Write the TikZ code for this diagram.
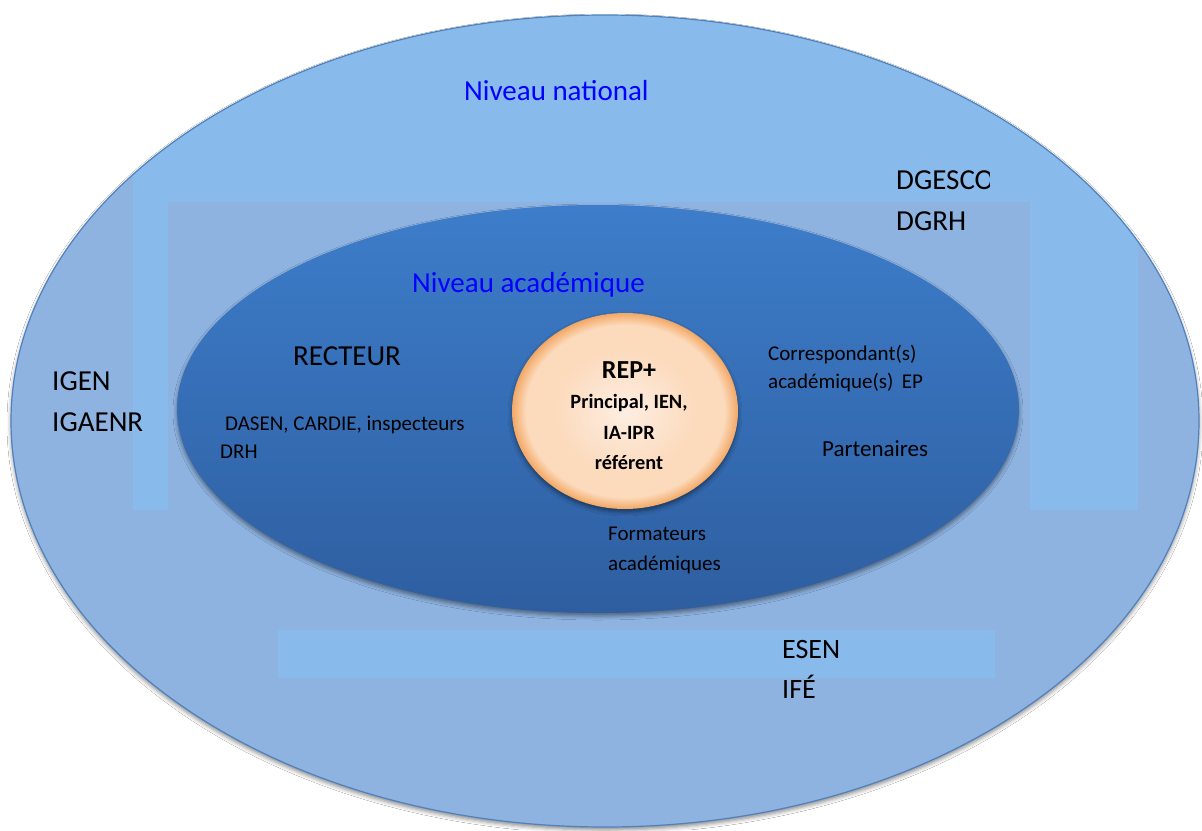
\documentclass[tikz,border=0pt]{standalone}
\usepackage{fontspec}
\setmainfont{Carlito}
\usetikzlibrary{shadows,shadows.blur}
\definecolor{outerblue}{RGB}{142,179,225}
\definecolor{lightblue}{RGB}{136,186,236}
\definecolor{edgeblue}{RGB}{79,129,189}
\definecolor{innertop}{RGB}{61,125,202}
\definecolor{innerbot}{RGB}{46,94,160}
\definecolor{peach}{RGB}{253,238,226}
\definecolor{peachmid}{RGB}{252,218,188}
\definecolor{peachedge}{RGB}{243,168,100}
\definecolor{titleblue}{RGB}{0,0,255}
\pgfdeclareradialshading{peachball}{\pgfpoint{0bp}{0bp}}{%
  color(0bp)=(peach); color(16bp)=(peachmid); color(22bp)=(peachmid);
  color(25bp)=(peachedge); color(50bp)=(peachedge)}
\tikzset{
  lbl/.style={inner sep=0pt, anchor=base west, font=\fontsize{29}{34}\selectfont},
  sml/.style={inner sep=0pt, anchor=base west, font=\fontsize{21}{25}\selectfont},
  repl/.style={inner sep=0pt, anchor=base, font=\bfseries\fontsize{20.3}{24}\selectfont},
  ringshadow/.style={blur shadow={shadow xshift=0pt, shadow yshift=-3pt, shadow blur radius=4pt, shadow opacity=45}}
}
\begin{document}
\begin{tikzpicture}[x=1pt,y=-1pt]
\useasboundingbox (0,0) rectangle (1202,830);
\fill[white] (0,0) rectangle (1202,830);
% outer level
\path[fill=outerblue, ringshadow] (605,421) ellipse [x radius=594, y radius=406];
\begin{scope}
  \clip (605,421) ellipse [x radius=594, y radius=406];
  \fill[lightblue] (0,0) -- (1202,0) -- (1202,222) -- (1138,222) -- (1138,510) -- (1030,510)
     -- (1030,202) -- (168,202) -- (168,510) -- (133,510) -- (133,177) -- (0,177) -- cycle;
  \fill[lightblue] (278,630) rectangle (995,678);
\end{scope}
\draw[edgeblue, line width=1.2pt] (605,421) ellipse [x radius=594, y radius=406];
% academic level
\path[top color=innertop, bottom color=innerbot, ringshadow] (598,409) ellipse [x radius=421, y radius=204];
% REP+ core
\path[shading=peachball, ringshadow] (625,411) ellipse [x radius=113, y radius=98];
% texts
\node[lbl, text=titleblue] (nat) at (464,100) {Niveau national};
\begin{scope}
  \clip (880,150) rectangle (989,200);
  \node[lbl] (dgesco) at (896,189) {DGESCO};
\end{scope}
\node[lbl] (dgrh) at (896,230) {DGRH};
\node[lbl, text=titleblue] (acad) at (412,292) {Niveau académique};
\node[lbl] (recteur) at (293,365) {RECTEUR};
\node[lbl] (igen) at (52,390) {IGEN};
\node[lbl] (igaenr) at (52,431) {IGAENR};
\node[sml] (dasen) at (225,430) {DASEN, CARDIE, inspecteurs};
\node[sml] (drh) at (220,458) {DRH};
\node[sml] (corr) at (768,360) {Correspondant(s)};
\node[sml] (acep) at (768,388) {académique(s)\hspace{0.4em}EP};
\node[sml, font=\fontsize{23}{27}\selectfont] (part) at (822,456) {Partenaires};
\node[repl, font=\bfseries\fontsize{26}{30}\selectfont] (rep) at (629,378) {REP+};
\node[repl] (princ) at (629,408) {Principal, IEN,};
\node[repl] (iaipr) at (629,439) {IA-IPR};
\node[repl] (refe) at (629,469) {référent};
\node[sml] (form) at (608,540) {Formateurs};
\node[sml] (acads) at (608,570) {académiques};
\node[lbl, font=\fontsize{28}{32}\selectfont] (esen) at (782,658) {ESEN};
\node[lbl, font=\fontsize{28}{32}\selectfont] (ife) at (782,698) {IFÉ};
\end{tikzpicture}
\end{document}
